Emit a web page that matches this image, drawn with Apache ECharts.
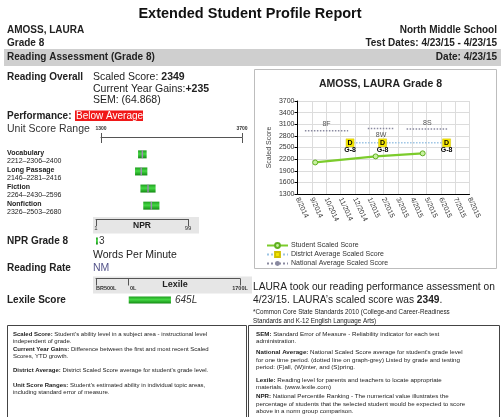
<!DOCTYPE html>
<html>
<head>
<meta charset="utf-8">
<script src="https://cdn.jsdelivr.net/npm/echarts@6/dist/echarts.min.js"></script>
<style>
  html, body { margin: 0; padding: 0; background: #fff; }
  #c { width: 501px; height: 417px; }
</style>
</head>
<body>
<div id="c"></div>
<script>
// ── 資料 ──────────────────────────────
var months = ["8/2014", "9/2014", "10/2014", "11/2014", "12/2014", "1/2015", "2/2015",
              "3/2015", "4/2015", "5/2015", "6/2015", "7/2015", "8/2015"];
var scoreMin = 1300, scoreMax = 3700, scoreStep = 300;

var studentDates = ["2014-09-08", "2015-01-15", "2015-04-23"];
var studentScores = [2114, 2270, 2349];

var districtDates = ["2014-11-21", "2015-01-30", "2015-06-13"];
var districtScores = [2620, 2620, 2620];
var districtTags = ["G-8", "G-8", "G-8"];

var nationalTags = ["8F", "8W", "8S"];
var nationalFrom = ["2014-08-17", "2014-12-29", "2015-03-20"];
var nationalTo = ["2014-11-17", "2015-02-22", "2015-06-16"];
var nationalScores = [2930, 2990, 2975];

var units = ["Vocabulary", "Long Passage", "Fiction", "Nonfiction"];
var unitLow = [2212, 2146, 2264, 2326];
var unitScore = [2306, 2281, 2430, 2503];
var unitHigh = [2400, 2416, 2596, 2680];
var unitScale = [1300, 3700];

var nprScale = [1, 99];
var nprScore = 3;

var lexileScale = [-500, 0, 1700];
var lexileScaleLabels = ["BR500L", "0L", "1700L"];
var lexileScore = 645;

// ── 共用 ──────────────────────────────
var FF = '"Liberation Sans", Arial, sans-serif';

// 日期 → 以 8/2014 為 0 的月份位置
function monthPos(s) {
  var p = s.split("-").map(Number);
  var days = new Date(p[0], p[1], 0).getDate();
  return (p[0] - 2014) * 12 + (p[1] - 8) + (p[2] - 1) / days;
}
function plain(v) { return String(v); }

function T(x, y, text, size, opt) {
  opt = opt || {};
  return {
    type: "text", z: 10,
    style: {
      text: text, x: x, y: y,
      fontFamily: FF, fontSize: size, fontWeight: opt.bold ? "bold" : "normal",
      fontStyle: opt.italic ? "italic" : "normal",
      fill: opt.color || "#222",
      align: opt.align || "left", textAlign: opt.align || "left",
      verticalAlign: "middle", textVerticalAlign: "middle",
      rich: { b: { fontFamily: FF, fontSize: size, fontWeight: "bold", fill: opt.color || "#222" } }
    }
  };
}
function R(x, y, w, h, fill, stroke) {
  return {
    type: "rect", z: -5,
    shape: { x: x, y: y, width: w, height: h },
    style: { fill: fill || "none", stroke: stroke || "none", lineWidth: 1 }
  };
}
function greenFill() {
  return new echarts.graphic.LinearGradient(0, 0, 0, 1, [
    { offset: 0, color: "#1e9e1e" }, { offset: 0.45, color: "#45d845" }, { offset: 1, color: "#128a12" }
  ]);
}

var graphics = [
  R(4, 49, 497, 17, "#cfcfcf"),
  R(75, 110.5, 68, 10.5, "#f01818"),
  R(254.5, 69.5, 242, 199, "#fff", "#bdbdbd"),
  R(93, 217, 106, 16.5, "#e6e6e6"),
  R(93, 276.5, 159, 17, "#e6e6e6"),
  R(7.5, 325.5, 239, 100, "none", "#444"),
  R(248.5, 325.5, 251, 100, "none", "#444"),

  T(250, 14, "Extended Student Profile Report", 14.5, { bold: true, align: "center", color: "#111" }),
  T(7, 30, "AMOSS, LAURA", 10, { bold: true }),
  T(7, 43.5, "Grade 8", 10, { bold: true }),
  T(497, 30, "North Middle School", 10, { bold: true, align: "right" }),
  T(497, 43.5, "Test Dates: 4/23/15 - 4/23/15", 10, { bold: true, align: "right" }),
  T(7, 57, "Reading Assessment (Grade 8)", 10, { bold: true }),
  T(497, 57, "Date: 4/23/15", 10, { bold: true, align: "right" }),

  T(7, 77, "Reading Overall", 10, { bold: true }),
  T(93, 77, "Scaled Score: {b|2349}", 10.5),
  T(93, 88.7, "Current Year Gains:{b|+235}", 10.5),
  T(93, 100, "SEM: (64.868)", 10.5),
  T(7, 116, "Performance:", 10, { bold: true }),
  T(76, 116, "Below Average", 10, { color: "#fff" }),
  T(7, 128.7, "Unit Score Range", 10.5, { color: "#333" }),
  T(142, 225.5, "NPR", 8.5, { bold: true, align: "center" }),
  T(7, 241, "NPR Grade 8", 10, { bold: true }),
  T(93, 255.3, "Words Per Minute", 10.5),
  T(7, 268.3, "Reading Rate", 10, { bold: true }),
  T(93, 268.3, "NM", 10.5, { color: "#55558a" }),
  T(175, 285, "Lexile", 9, { bold: true, align: "center" }),
  T(7, 300, "Lexile Score", 10, { bold: true }),

  T(380.5, 84, "AMOSS, LAURA Grade 8", 10.5, { bold: true, align: "center" }),

  T(253, 287, "LAURA took our reading performance assessment on", 10.2),
  T(253, 299.7, "4/23/15. LAURA\u2019s scaled score was {b|2349}.", 10.2),
  T(253, 312.7, "*Common Core State Standards 2010 (College-and Career-Readiness", 6.3),
  T(253, 321, "Standards and K-12 English Language Arts)", 6.3),

  T(13, 334, "{b|Scaled Score:} Student's ability level in a subject area - instructional level", 6),
  T(13, 341.7, "independent of grade.", 6),
  T(13, 349, "{b|Current Year Gains:} Difference between the first and most recent Scaled", 6),
  T(13, 356.7, "Scores, YTD growth.", 6),
  T(13, 370.7, "{b|District Average:} District Scaled Score average for student's grade level.", 6),
  T(13, 385, "{b|Unit Score Ranges:} Student's estimated ability in individual topic areas,", 6),
  T(13, 392.7, "including standard error of measure.", 6),

  T(256, 334, "{b|SEM:} Standard Error of Measure - Reliability indicator for each test", 6.2),
  T(256, 341.3, "administration.", 6.2),
  T(256, 352.7, "{b|National Average:} National Scaled Score average for student's grade level", 6.2),
  T(256, 360, "for one time period. (dotted line on graph-grey) Listed by grade and testing", 6.2),
  T(256, 367.7, "period: (F)all, (W)inter, and (S)pring.", 6.2),
  T(256, 380, "{b|Lexile:} Reading level for parents and teachers to locate appropriate", 6.2),
  T(256, 387.7, "materials. (www.lexile.com)", 6.2),
  T(256, 396.7, "{b|NPR:} National Percentile Ranking - The numerical value illustrates the", 6.2),
  T(256, 404, "percentage of students that the selected student would be expected to score", 6.2),
  T(256, 411.7, "above in a norm group comparison.", 6.2)
];

// ── 折線圖序列 ──────────────────────────────
var series = [];
series.push({
  name: "Student Scaled Score", type: "line", xAxisIndex: 0, yAxisIndex: 0, z: 6,
  data: studentDates.map(function (d, i) { return [monthPos(d), studentScores[i]]; }),
  lineStyle: { color: "#7ccc2c", width: 2.2 },
  symbol: "circle", symbolSize: 5,
  itemStyle: { color: "#c8f0a0", borderColor: "#5fb020", borderWidth: 1 }
});
series.push({
  name: "District Average Scaled Score", type: "line", xAxisIndex: 0, yAxisIndex: 0, z: 5,
  data: districtDates.map(function (d, i) { return [monthPos(d), districtScores[i]]; }),
  lineStyle: { color: "#9cc4e4", width: 1.5, type: "dotted" },
  symbol: "rect", symbolSize: 8,
  itemStyle: { color: "#f4e600", borderColor: "#d0c000", borderWidth: 0.5 },
  label: {
    show: true, position: "inside", offset: [0, 4],
    formatter: function (p) { return "{d|D}\n{g|" + districtTags[p.dataIndex] + "}"; },
    rich: {
      d: { fontFamily: FF, fontSize: 7, fontWeight: "bold", color: "#000", lineHeight: 7 },
      g: { fontFamily: FF, fontSize: 7, fontWeight: "bold", color: "#000", lineHeight: 8 }
    }
  }
});
nationalTags.forEach(function (tag, i) {
  var a = monthPos(nationalFrom[i]), b = monthPos(nationalTo[i]);
  series.push({
    name: "National Average Scaled Score", type: "line", xAxisIndex: 0, yAxisIndex: 0, z: 4,
    data: [[a, nationalScores[i]], [b, nationalScores[i]]],
    lineStyle: { color: "#8a8aa0", width: 1.5, type: "dotted" },
    itemStyle: { color: "#8a8aa0" },
    symbol: "none",
    markPoint: {
      symbol: "circle", symbolSize: 0, silent: true,
      label: { show: true, formatter: tag, position: i === 1 ? "bottom" : "top", distance: 3,
               fontFamily: FF, fontSize: 7, color: "#555" },
      data: [{ coord: [(a + b) / 2, nationalScores[i]] }]
    }
  });
});

// ── 單元分數區間長條 ──────────────────────────────
series.push({
  type: "bar", xAxisIndex: 1, yAxisIndex: 1, stack: "u", silent: true, barWidth: 8,
  data: unitLow, itemStyle: { color: "rgba(0,0,0,0)" }
});
series.push({
  type: "bar", xAxisIndex: 1, yAxisIndex: 1, stack: "u", silent: true, barWidth: 8,
  data: unitScore.map(function (v, i) { return v - unitLow[i]; }), itemStyle: { color: greenFill() }
});
series.push({
  type: "bar", xAxisIndex: 1, yAxisIndex: 1, stack: "u", silent: true, barWidth: 8,
  data: unitHigh.map(function (v, i) { return v - unitScore[i]; }), itemStyle: { color: greenFill() }
});
series.push({
  type: "scatter", xAxisIndex: 1, yAxisIndex: 1, silent: true, z: 5,
  data: unitScore.map(function (v, i) { return [v, i]; }),
  symbol: "rect", symbolSize: [1.5, 8], itemStyle: { color: "#b07cc8" }
});

// NPR 與 Lexile
series.push({
  type: "bar", xAxisIndex: 6, yAxisIndex: 4, silent: true, barWidth: 7,
  data: [nprScore], itemStyle: { color: greenFill() },
  label: { show: true, position: "right", distance: 1, fontFamily: FF, fontSize: 10, color: "#333" }
});
series.push({
  type: "bar", xAxisIndex: 9, yAxisIndex: 6, silent: true, barWidth: 7,
  data: [lexileScore], itemStyle: { color: greenFill() },
  label: { show: true, position: "right", distance: 4, formatter: "{c}L",
           fontFamily: FF, fontSize: 10, fontStyle: "italic", color: "#333" }
});

function hiddenX(grid, min, max) {
  return { type: "value", gridIndex: grid, min: min, max: max, show: false };
}
function hiddenY(grid, cat) {
  return cat ? { type: "category", gridIndex: grid, data: cat, show: false }
             : { type: "value", gridIndex: grid, min: 0, max: 1, show: false };
}
var scaleLine = { color: "#555", width: 1 };

var option = {
  animation: false,
  textStyle: { fontFamily: FF },
  graphic: graphics,
  legend: {
    orient: "vertical", left: 261, top: 237, itemWidth: 21, itemHeight: 6, itemGap: 2,
    data: ["Student Scaled Score", "District Average Scaled Score", "National Average Scaled Score"],
    textStyle: { fontFamily: FF, fontSize: 7, color: "#333", padding: [0, 0, 0, -2] }
  },
  grid: [
    { left: 297.5, top: 101, width: 172, height: 93, outerBoundsMode: "none" },
    { left: 96.4, top: 145.8, width: 109.6, height: 68.4, outerBoundsMode: "none" },
    { left: 101, top: 133, width: 141, height: 4.5, outerBoundsMode: "none" },
    { left: 96, top: 219, width: 92, height: 5, outerBoundsMode: "none" },
    { left: 96, top: 237.5, width: 92, height: 7, outerBoundsMode: "none" },
    { left: 96, top: 278.5, width: 144, height: 6, outerBoundsMode: "none" },
    { left: 96, top: 296.5, width: 144, height: 7, outerBoundsMode: "none" }
  ],
  xAxis: [
    { // 0 折線圖月份
      type: "value", gridIndex: 0, min: 0, max: months.length - 1, interval: 1,
      axisLine: { onZero: false, lineStyle: { color: "#000", width: 1 } },
      axisTick: { show: false },
      axisLabel: { rotate: -65, fontSize: 7, color: "#333", margin: 4,
                   formatter: function (v) { return months[v] || ""; } },
      splitLine: { show: true, lineStyle: { color: "#dcdcdc" } }
    },
    hiddenX(1, unitScale[0], unitScale[1]),
    { // 2 單元分數刻度（下）
      type: "value", gridIndex: 2, position: "bottom", min: unitScale[0], max: unitScale[1],
      axisLine: { onZero: false, lineStyle: scaleLine },
      axisTick: { show: true, length: 5.5, customValues: unitScale, lineStyle: scaleLine },
      axisLabel: { show: false }, splitLine: { show: false }
    },
    { // 3 單元分數刻度（上）
      type: "value", gridIndex: 2, position: "top", min: unitScale[0], max: unitScale[1],
      axisLine: { show: false, onZero: false },
      axisTick: { show: true, inside: true, length: 4.5, customValues: unitScale, lineStyle: scaleLine },
      axisLabel: { show: true, customValues: unitScale, fontSize: 5, fontWeight: "bold", color: "#333",
                   margin: 2, formatter: plain },
      splitLine: { show: false }
    },
    { // 4 NPR 刻度（上）
      type: "value", gridIndex: 3, position: "top", min: nprScale[0], max: nprScale[1],
      axisLine: { onZero: false, lineStyle: scaleLine },
      axisTick: { show: true, inside: true, length: 7, customValues: nprScale, lineStyle: scaleLine },
      axisLabel: { show: false }, splitLine: { show: false }
    },
    { // 5 NPR 刻度標籤（下）
      type: "value", gridIndex: 3, position: "bottom", min: nprScale[0], max: nprScale[1],
      axisLine: { show: false, onZero: false }, axisTick: { show: false },
      axisLabel: { show: true, customValues: nprScale, fontSize: 6, color: "#333", margin: 1.5, formatter: plain },
      splitLine: { show: false }
    },
    hiddenX(4, nprScale[0], nprScale[1]),
    { // 7 Lexile 刻度（上）
      type: "value", gridIndex: 5, position: "top", min: lexileScale[0], max: lexileScale[2],
      axisLine: { onZero: false, lineStyle: scaleLine },
      axisTick: { show: true, inside: true, length: 7, customValues: lexileScale, lineStyle: scaleLine },
      axisLabel: { show: false }, splitLine: { show: false }
    },
    { // 8 Lexile 刻度標籤（下）
      type: "value", gridIndex: 5, position: "bottom", min: lexileScale[0], max: lexileScale[2],
      axisLine: { show: false, onZero: false }, axisTick: { show: false },
      axisLabel: {
        show: true, customValues: lexileScale, margin: 1, alignMinLabel: "left",
        formatter: function (v) {
          var s = lexileScaleLabels[lexileScale.indexOf(v)] || "";
          return v === 0 ? "{p|" + s + "}" : "{n|" + s + "}";
        },
        rich: {
          n: { fontFamily: FF, fontSize: 5.5, fontWeight: "bold", color: "#333" },
          p: { fontFamily: FF, fontSize: 5.5, fontWeight: "bold", color: "#333", padding: [0, 0, 0, 9] }
        }
      },
      splitLine: { show: false }
    },
    hiddenX(6, lexileScale[0], lexileScale[2])
  ],
  yAxis: [
    { // 0 分數
      type: "value", gridIndex: 0, min: scoreMin, max: scoreMax, interval: scoreStep,
      axisLine: { show: true, onZero: false, lineStyle: { color: "#000", width: 1 } },
      axisTick: { show: true, length: 3, lineStyle: { color: "#000" } },
      axisLabel: { fontSize: 7, color: "#333", margin: 3, formatter: plain },
      splitLine: { show: true, lineStyle: { color: "#dcdcdc" } },
      name: "Scaled Score", nameLocation: "middle", nameGap: 25,
      nameTextStyle: { fontFamily: FF, fontSize: 7, color: "#444" }
    },
    { // 1 單元名稱
      type: "category", gridIndex: 1, data: units, inverse: true,
      axisLine: { show: false }, axisTick: { show: false },
      axisLabel: {
        align: "left", margin: 89.4, padding: [5.3, 0, 0, 0],
        formatter: function (v, i) {
          return "{n|" + v + "}\n{r|" + unitLow[i] + "\u2013" + unitScore[i] + "\u2013" + unitHigh[i] + "}";
        },
        rich: {
          n: { fontFamily: FF, fontSize: 7, fontWeight: "bold", color: "#222", lineHeight: 8.5 },
          r: { fontFamily: FF, fontSize: 7, color: "#222", lineHeight: 8.5 }
        }
      },
      splitLine: { show: false }
    },
    hiddenY(2), hiddenY(3), hiddenY(4, ["NPR"]), hiddenY(5), hiddenY(6, ["Lexile"])
  ],
  series: series
};

var chart = echarts.init(document.getElementById("c"), null, { renderer: "canvas" });
chart.setOption(option);
</script>
</body>
</html>
